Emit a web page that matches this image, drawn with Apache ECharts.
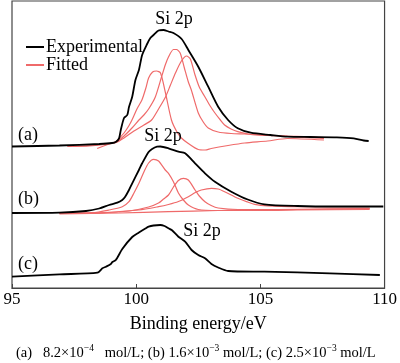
<!DOCTYPE html>
<html><head><meta charset="utf-8">
<script src="https://cdn.jsdelivr.net/npm/echarts@6/dist/echarts.min.js"></script>
<style>html,body{margin:0;padding:0;background:#fff}#c{width:400px;height:363px}</style>
</head><body><div id="c"></div>
<script>
// Binding energy (eV) vs. intensity (a.u., curves offset vertically)
const xTickValues = [95, 100, 105, 110];
const seriesNames = ['Experimental', 'Fitted'];
const peakLabel = 'Si 2p';
const sampleLabels = ['(a)', '(b)', '(c)'];

// (a) 8.2e-4 mol/L
const expA = [[95.00,141.5],[96.91,142.5],[98.51,144],[99.03,145],[99.19,146.3],[99.31,149.7],[99.38,158],[99.51,170],[99.64,173],[99.71,181],[99.84,191.3],[99.97,208],[100.11,218],[100.24,233],[100.44,244],[100.57,250],[100.70,253],[100.90,257.5],[101.10,258],[101.30,256.5],[101.50,255],[101.83,249],[102.10,238],[102.50,221.3],[102.90,201.3],[103.30,181.3],[103.70,168],[104.09,159.7],[104.61,155.3],[105.41,153],[106.09,151.3],[107.01,151],[108.08,150.7],[108.76,149.7],[109.16,147.5],[109.36,147]];
const fitA1 = [[98.43,139.5],[98.91,144],[99.19,146.5],[99.31,149.5],[99.51,155],[99.70,162],[99.83,168],[100.03,179],[100.23,188],[100.39,200],[100.50,210],[100.66,216],[100.82,217],[100.98,215],[101.18,195],[101.42,168],[101.62,157],[101.82,150],[102.10,144.5],[102.50,138.5],[102.78,138],[103.02,139.5],[103.70,142.5],[104.37,145],[105.29,147],[106.09,149.5],[107.56,148]];
const fitA2 = [[97.23,142],[98.11,142.5],[98.91,144.5],[99.19,146],[99.51,152],[99.83,160],[100.11,168],[100.31,173],[100.50,179],[100.77,191],[101.02,211],[101.17,223],[101.30,231],[101.50,238.5],[101.62,238.5],[101.77,235],[101.94,220],[102.10,206],[102.22,198],[102.50,175],[102.70,166],[102.90,160],[103.30,156],[103.82,154.5],[104.37,154],[106.09,152],[107.56,150.5]];
const fitA3 = [[97.23,141.5],[98.11,142],[98.91,144],[99.19,145.5],[99.51,150],[99.91,157],[100.31,163],[100.62,168],[100.90,179],[101.18,191],[101.38,203],[101.58,215],[101.82,227],[102.03,232],[102.18,229],[102.37,213],[102.54,201],[102.77,191],[102.98,182],[103.17,175],[103.39,168],[103.56,163],[103.82,159],[104.09,156.3],[104.61,153.5],[105.29,152.5],[106.09,151.5],[107.56,149.5]];

// (b) 1.6e-3 mol/L
const expB = [[95.00,75],[96.91,75.3],[97.98,77],[98.51,79.5],[98.91,83],[99.24,85.3],[99.44,88],[99.55,91],[99.71,98],[99.84,104.7],[100.11,118],[100.24,124.7],[100.50,136],[100.64,139],[100.84,141.3],[100.97,141.5],[101.30,139.7],[101.70,136.3],[101.97,134.7],[102.37,124.7],[102.77,114.7],[103.17,106.3],[103.83,96.3],[104.49,88.5],[105.16,83.7],[106.49,82],[108.08,81.5],[109.95,81.5]];
const fitB1 = [[96.91,75],[98.23,75.3],[98.91,78],[99.44,81.3],[99.71,86.3],[99.91,95],[100.11,104.7],[100.31,116],[100.50,125],[100.70,128.7],[100.90,127],[101.17,118],[101.30,114.7],[101.50,106.3],[101.70,95],[101.90,88],[102.10,83],[102.50,78.5],[103.30,77.5],[104.89,77.5],[106.49,78],[109.40,78.5]];
const fitB2 = [[96.91,74.5],[98.51,75],[99.71,77],[100.50,81],[100.90,85],[101.10,89],[101.30,93],[101.50,101],[101.70,107.5],[101.90,109.7],[102.10,108],[102.37,98],[102.54,92],[102.77,86.3],[103.02,82.5],[103.30,80],[104.09,78.5],[106.49,78.5],[109.40,79.5]];
const fitB3 = [[96.91,74.5],[98.51,75.2],[100.11,78],[100.90,81.3],[101.30,83.5],[101.70,86.5],[102.10,91.3],[102.38,95.5],[102.62,98],[103.03,99.7],[103.30,99],[103.56,96.3],[104.09,89.7],[104.49,86],[104.77,83.7],[105.29,82.2],[106.49,81.3],[109.40,81]];
const fitB4 = [[96.91,74],[99.31,75],[101.30,76.3],[103.30,77.5],[106.49,78.7],[109.40,79.5]];

// (c) 2.5e-3 mol/L
const expC = [[95.00,11.3],[96.91,13.7],[98.44,15.3],[98.64,19.7],[98.78,21.3],[98.98,24],[99.04,26],[99.18,28],[99.44,39],[99.84,51],[100.11,55.5],[100.37,59.5],[100.50,61.3],[100.70,62.5],[100.97,63],[101.14,62],[101.30,59.7],[101.43,58],[101.70,51.3],[101.97,46.3],[102.23,38],[102.50,33],[102.77,29.7],[103.03,24],[103.30,20.5],[103.70,17],[105.16,16.3],[107.80,14.7],[109.81,13]];

const RED = '#ef6a6a';
const FONT = 'Liberation Serif';

function line(name, data, color, width) {
  return { name, type: 'line', data, symbol: 'none', smooth: 0.25,
    lineStyle: { color, width }, itemStyle: { color }, z: color === '#000' ? 3 : 2 };
}

const series = [
  line(seriesNames[1], fitA1, RED, 1.2), line(seriesNames[1], fitA2, RED, 1.2), line(seriesNames[1], fitA3, RED, 1.2),
  line(seriesNames[1], fitB1, RED, 1.2), line(seriesNames[1], fitB2, RED, 1.2), line(seriesNames[1], fitB3, RED, 1.2), line(seriesNames[1], fitB4, RED, 1.2),
  line(seriesNames[0], expA, '#000', 1.8), line(seriesNames[0], expB, '#000', 1.8), line(seriesNames[0], expC, '#000', 1.8)
];

const chart = echarts.init(document.getElementById('c'), null, { renderer: 'canvas' });
const txt = (text, x, y, align, size) => ({ type: 'text', x, y, z: 10,
  style: { text, fontFamily: FONT, fontSize: size, fill: '#000', align: align || 'center', verticalAlign: 'middle' } });

chart.setOption({
  animation: false,
  backgroundColor: '#fff',
  textStyle: { fontFamily: FONT },
  grid: { left: 12, right: 12, top: 1, bottom: 75, show: true, borderColor: '#444', borderWidth: 1.2 },
  legend: {
    data: [
      { name: seriesNames[0], icon: 'rect', itemStyle: { color: '#000' } },
      { name: seriesNames[1], icon: 'rect', itemStyle: { color: RED } }
    ],
    orient: 'vertical', left: 21, top: 33, itemWidth: 18, itemHeight: 2, itemGap: 0,
    textStyle: { fontFamily: FONT, fontSize: 18, color: '#000', lineHeight: 17, padding: [0, 0, 0, -3] }
  },
  xAxis: {
    type: 'value', min: 95, max: 110, interval: 5,
    axisLine: { show: true, lineStyle: { color: '#444', width: 1.2 } },
    axisTick: { show: true, inside: true, length: 4, lineStyle: { color: '#444' } },
    splitLine: { show: false },
    axisLabel: { fontFamily: FONT, fontSize: 17, color: '#000', margin: 3,
      formatter: v => xTickValues.includes(v) ? String(v) : '' },
    name: 'Binding energy/eV', nameLocation: 'middle', nameGap: 27,
    nameTextStyle: { fontFamily: FONT, fontSize: 18, color: '#000' }
  },
  yAxis: { type: 'value', min: 0, max: 287, show: false },
  series,
  graphic: [
    txt(peakLabel, 174, 19, 'center', 18),
    txt(peakLabel, 163, 136, 'center', 18),
    txt(peakLabel, 202, 231, 'center', 18),
    txt(sampleLabels[0], 18, 135, 'left', 18),
    txt(sampleLabels[1], 18, 199, 'left', 18),
    txt(sampleLabels[2], 18, 264, 'left', 18),
    { type: 'text', x: 16, y: 352, z: 10,
      style: {
        text: '{n|(a)   8.2×10}{s|−4}{n|   mol/L; (b) 1.6×10}{s|−3}{n| mol/L; (c) 2.5×10}{s|−3}{n| mol/L}',
        verticalAlign: 'middle', align: 'left',
        rich: {
          n: { fontFamily: FONT, fontSize: 14.5, color: '#000', lineHeight: 17, verticalAlign: 'bottom' },
          s: { fontFamily: FONT, fontSize: 9.5, color: '#000', lineHeight: 17, verticalAlign: 'top' }
        }
      }
    }
  ]
});
</script>
</body></html>
